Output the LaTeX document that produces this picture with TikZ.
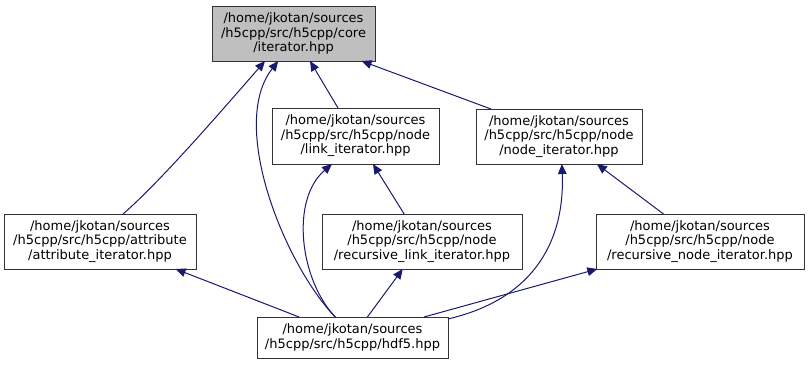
\documentclass[tikz,border=0pt]{standalone}
\usepackage{fontspec}
\setmainfont{DejaVu Sans}
\usetikzlibrary{arrows.meta}
\definecolor{edgeblue}{HTML}{191970}
\definecolor{boxline}{HTML}{333333}
\definecolor{boxgrey}{HTML}{BFBFBF}
\begin{document}
\begin{tikzpicture}[x=0.75pt,y=-0.75pt,
  filebox/.style={draw=boxline,line width=0.75pt,rectangle,align=center,
    inner sep=0pt,outer sep=0pt,font=\fontsize{9.75pt}{10.9pt}\selectfont},
  edge/.style={draw=edgeblue,line width=0.75pt,
    -{Triangle[length=7.5pt,width=6.5pt]},shorten >=0pt}]
\useasboundingbox (0,0) rectangle (810,364);

% header files
\node[filebox,fill=boxgrey,minimum width=122.25pt,minimum height=41.25pt] (iter) at (293.5,33.5)
  {/home/jkotan/sources\\/h5cpp/src/h5cpp/core\\/iterator.hpp};
\node[filebox,minimum width=125.25pt,minimum height=42pt] (link) at (355.5,136)
  {/home/jkotan/sources\\/h5cpp/src/h5cpp/node\\/link\_iterator.hpp};
\node[filebox,minimum width=124.5pt,minimum height=41.25pt] (nodeit) at (559,136.5)
  {/home/jkotan/sources\\/h5cpp/src/h5cpp/node\\/node\_iterator.hpp};
\node[filebox,minimum width=144pt,minimum height=41.25pt] (attr) at (100,241.5)
  {/home/jkotan/sources\\/h5cpp/src/h5cpp/attribute\\/attribute\_iterator.hpp};
\node[filebox,minimum width=150pt,minimum height=41.25pt] (rlink) at (422,241.5)
  {/home/jkotan/sources\\/h5cpp/src/h5cpp/node\\/recursive\_link\_iterator.hpp};
\node[filebox,minimum width=156pt,minimum height=41.25pt] (rnode) at (700,241.5)
  {/home/jkotan/sources\\/h5cpp/src/h5cpp/node\\/recursive\_node\_iterator.hpp};
\node[filebox,minimum width=143.25pt,minimum height=30.75pt] (hdf5) at (352.5,337.5)
  {/home/jkotan/sources\\/h5cpp/src/h5cpp/hdf5.hpp};

% include relations
\draw[edge] (attr.50) .. controls (162,180) and (224,108) .. (iter.224);
\draw[edge] (hdf5.130.5) .. controls (285,265) and (228,125) .. (iter.241);
\draw[edge] (link.122) -- (iter.301);
\draw[edge] (nodeit.158) -- (iter.338);
\draw[edge] (hdf5.130.5) .. controls (300,280) and (290,200) .. (link.230);
\draw[edge] (rlink.123) -- (link.302);
\draw[edge] (hdf5.54.7) -- (rlink.235);
\draw[edge] (hdf5.11) .. controls (530,300) and (565,245) .. (nodeit.276);
\draw[edge] (rnode.143) -- (nodeit.324);
\draw[edge] (hdf5.159) -- (attr.340);
\draw[edge] (hdf5.16.4) -- (rnode.195.5);
\end{tikzpicture}
\end{document}
